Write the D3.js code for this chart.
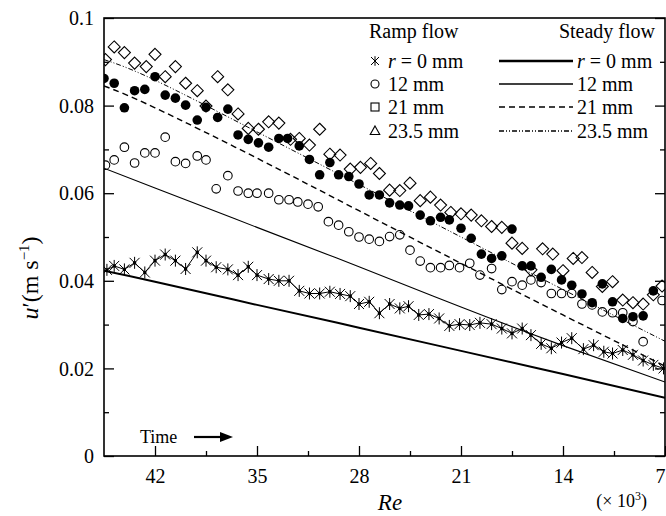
<!DOCTYPE html>
<html>
<head>
<meta charset="utf-8">
<script src="https://cdn.jsdelivr.net/npm/d3@7"></script>
<style>
  body { margin: 0; background: #fff; }
  svg text { font-family: "Liberation Serif", "DejaVu Serif", "Times New Roman", serif; fill: #000; }
</style>
</head>
<body>
<svg id="chart" width="666" height="516"></svg>
<script>
//// DATA (Re in thousands, u' in m/s)

const xTicks = [42, 35, 28, 21, 14, 7];
const xMinorTicks = [38.5, 31.5, 24.5, 17.5, 10.5];
const yTicks = [0, 0.02, 0.04, 0.06, 0.08, 0.1];
const yTickLabels = ["0", "0.02", "0.04", "0.06", "0.08", "0.1"];
const yMinorTicks = [0.01, 0.03, 0.05, 0.07, 0.09];

// ramp flow, r = 0 mm (asterisks)
const ramp0Re = [45.3,44.8,44.1,43.4,42.7,42.0,41.3,40.6,39.9,39.1,38.5,37.8,37.0,36.3,35.6,35.0,34.2,33.5,32.8,32.1,31.4,30.7,30.0,29.3,28.6,28.0,27.3,26.6,25.9,25.2,24.6,23.9,23.2,22.5,21.8,21.1,20.4,19.7,18.9,18.2,17.5,16.8,16.2,15.5,14.8,14.1,13.4,12.6,11.9,11.2,10.6,9.9,9.2,8.5,7.8,7.1];
const ramp0U = [0.0425,0.0434,0.0426,0.0441,0.0419,0.0446,0.0460,0.0446,0.0427,0.0465,0.0446,0.0431,0.0426,0.0413,0.0432,0.0413,0.0404,0.0400,0.0400,0.0377,0.0371,0.0371,0.0375,0.0370,0.0365,0.0347,0.0352,0.0326,0.0347,0.0337,0.0342,0.0322,0.0324,0.0314,0.0297,0.0301,0.0299,0.0304,0.0301,0.0291,0.0280,0.0291,0.0276,0.0256,0.0246,0.0259,0.0269,0.0244,0.0253,0.0238,0.0234,0.0242,0.0231,0.0218,0.0208,0.0200];

// ramp flow, 12 mm (open circles)
const ramp12Re = [45.4,44.8,44.1,43.4,42.7,42.0,41.3,40.6,39.9,39.1,38.5,37.8,37.0,36.3,35.6,35.0,34.2,33.5,32.8,32.2,31.5,30.8,30.1,29.4,28.7,28.0,27.3,26.6,25.9,25.2,24.5,23.8,23.1,22.4,21.8,21.1,20.4,19.7,18.9,18.2,17.5,16.8,16.2,15.5,14.8,14.1,13.4,12.7,12.0,11.3,10.6,9.9,9.2,8.5,7.2];
const ramp12U = [0.0664,0.0676,0.0705,0.0669,0.0692,0.0692,0.0728,0.0672,0.0668,0.0685,0.0676,0.0610,0.0640,0.0605,0.0600,0.0600,0.0600,0.0585,0.0585,0.0580,0.0575,0.0569,0.0535,0.0527,0.0512,0.0500,0.0495,0.0490,0.0501,0.0505,0.0470,0.0445,0.0430,0.0430,0.0435,0.0430,0.0440,0.0413,0.0428,0.0380,0.0398,0.0390,0.0402,0.0396,0.0371,0.0371,0.0371,0.0347,0.0345,0.0329,0.0327,0.0327,0.0307,0.0261,0.0355];

// ramp flow, 21 mm (filled dots)
const ramp21Re = [45.5,44.8,44.1,43.4,42.7,42.0,41.3,40.6,39.9,39.1,38.5,37.7,37.0,36.3,35.6,34.9,34.2,33.5,32.9,32.1,31.4,30.7,30.0,29.4,28.7,28.0,27.3,26.6,25.9,25.2,24.6,23.8,23.1,22.4,21.8,21.0,20.3,19.6,18.9,18.2,17.5,16.8,16.2,15.5,14.8,14.1,13.4,12.7,12.0,11.3,10.6,9.9,9.2,8.5,7.8];
const ramp21U = [0.0862,0.0851,0.0795,0.0834,0.0837,0.0866,0.0824,0.0817,0.0801,0.0767,0.0796,0.0773,0.0792,0.0733,0.0723,0.0715,0.0705,0.0725,0.0725,0.0708,0.0677,0.0642,0.0670,0.0642,0.0638,0.0621,0.0596,0.0596,0.0578,0.0573,0.0571,0.0550,0.0537,0.0545,0.0539,0.0520,0.0497,0.0461,0.0451,0.0457,0.0518,0.0434,0.0434,0.0408,0.0426,0.0402,0.0390,0.0370,0.0350,0.0393,0.0352,0.0314,0.0318,0.0320,0.0377];

// ramp flow, 23.5 mm (open diamonds)
const ramp235Re = [45.4,44.8,44.1,43.4,42.6,42.0,41.3,40.6,39.9,39.1,38.5,37.7,37.0,36.3,35.6,34.9,34.2,33.5,32.7,32.1,31.4,30.7,30.0,29.3,28.6,27.9,27.2,26.6,25.9,25.2,24.5,23.8,23.1,22.4,21.7,21.0,20.3,19.6,18.9,18.2,17.5,16.8,16.2,15.4,14.7,14.0,13.3,12.7,12.0,11.3,10.6,9.9,9.2,8.5,7.8,7.2];
const ramp235U = [0.0905,0.0934,0.0921,0.0897,0.0889,0.0917,0.0866,0.0889,0.0851,0.0834,0.0799,0.0866,0.0836,0.0781,0.0748,0.0746,0.0763,0.0760,0.0723,0.0725,0.0710,0.0746,0.0689,0.0687,0.0655,0.0659,0.0668,0.0645,0.0607,0.0606,0.0623,0.0583,0.0591,0.0573,0.0556,0.0553,0.0550,0.0537,0.0524,0.0522,0.0486,0.0474,0.0425,0.0473,0.0461,0.0423,0.0451,0.0453,0.0419,0.0387,0.0398,0.0356,0.0350,0.0347,0.0368,0.0388];

// steady flow curves
const steadyRe = [45.5, 42, 35, 28, 21, 14, 7];
const steady0U = [0.0423, 0.0398, 0.0345, 0.0293, 0.0240, 0.0187, 0.0133];
const steady12U = [0.0657, 0.0612, 0.0522, 0.0432, 0.0340, 0.0252, 0.0169];
const steady21U = [0.0845, 0.0795, 0.0680, 0.0560, 0.0440, 0.0322, 0.0205];
const steady235U = [0.0905, 0.0858, 0.0740, 0.0620, 0.0500, 0.0380, 0.0262];

const legendLabels = ["0 mm", "12 mm", "21 mm", "23.5 mm"];

//// LAYOUT

const svg = d3.select("#chart");
const X0 = 104, X1 = 665, Y0 = 456, Y1 = 18;
const FONT = '"Liberation Serif", "DejaVu Serif", serif';

const x = d3.scaleLinear().domain([45.5, 7]).range([X0, X1]);
const y = d3.scaleLinear().domain([0, 0.1]).range([Y0, Y1]);

svg.append("defs").append("clipPath").attr("id", "plot-clip")
  .append("rect").attr("x", X0).attr("y", Y1).attr("width", X1 - X0).attr("height", Y0 - Y1);

const pts = (re, u) => d3.zip(re, u);

//// MARKER PATHS

const asteriskPath = (s) => {
  const p = d3.path();
  p.moveTo(-s, -s); p.lineTo(s, s);
  p.moveTo(-s, s); p.lineTo(s, -s);
  p.moveTo(0, -s * 1.2); p.lineTo(0, s * 1.2);
  return p.toString();
};
const diamondPath = (s) => `M0,${-s}L${s},0L0,${s}L${-s},0Z`;
const trianglePath = (s) => `M0,${-s}L${s * 0.95},${s * 0.7}L${-s * 0.95},${s * 0.7}Z`;

//// STEADY LINES

const plot = svg.append("g").attr("clip-path", "url(#plot-clip)");
const line = d3.line().x(d => x(d[0])).y(d => y(d[1])).curve(d3.curveNatural);

const steadyStyles = [
  { u: steady0U, w: 2, dash: null },
  { u: steady12U, w: 1.1, dash: null },
  { u: steady21U, w: 1.4, dash: "6,4" },
  { u: steady235U, w: 1, dash: "5,2,1,2,1,2" },
];
steadyStyles.forEach(s => {
  plot.append("path")
    .datum(pts(steadyRe, s.u))
    .attr("d", line)
    .attr("fill", "none")
    .attr("stroke", "#000")
    .attr("stroke-width", s.w)
    .attr("stroke-dasharray", s.dash);
});

//// RAMP MARKERS

plot.append("g").selectAll("circle")
  .data(pts(ramp12Re, ramp12U))
  .join("circle")
  .attr("cx", d => x(d[0])).attr("cy", d => y(d[1]))
  .attr("r", 4.3)
  .attr("fill", "none").attr("stroke", "#000").attr("stroke-width", 1.1);

plot.append("g").selectAll("circle")
  .data(pts(ramp21Re, ramp21U))
  .join("circle")
  .attr("cx", d => x(d[0])).attr("cy", d => y(d[1]))
  .attr("r", 4.8)
  .attr("fill", "#000");

plot.append("g").selectAll("path")
  .data(pts(ramp235Re, ramp235U))
  .join("path")
  .attr("transform", d => `translate(${x(d[0])},${y(d[1])})`)
  .attr("d", diamondPath(6))
  .attr("fill", "none").attr("stroke", "#000").attr("stroke-width", 1.1);

const r0 = pts(ramp0Re, ramp0U);
plot.append("path")
  .datum(r0)
  .attr("d", d3.line().x(d => x(d[0])).y(d => y(d[1])))
  .attr("fill", "none").attr("stroke", "#000").attr("stroke-width", 1);
const star = plot.append("g").selectAll("g")
  .data(r0)
  .join("g")
  .attr("transform", d => `translate(${x(d[0])},${y(d[1])})`);
star.append("path").attr("d", asteriskPath(5)).attr("stroke", "#000").attr("stroke-width", 1);
star.append("rect").attr("x", -1.6).attr("y", -1.6).attr("width", 3.2).attr("height", 3.2).attr("fill", "#000");

//// AXES

const axes = svg.append("g");
const styleAxis = g => {
  g.attr("font-family", FONT);
  g.select(".domain").remove();
  g.selectAll("line").attr("stroke", "#000").attr("stroke-width", 1.3);
  g.selectAll("text").attr("font-size", 20);
};

axes.append("g").attr("transform", `translate(${X0},0)`)
  .call(d3.axisLeft(y).tickValues(yTicks).tickSize(-10).tickPadding(10)
    .tickFormat((d, i) => yTickLabels[i]))
  .call(styleAxis)
  .call(g => g.selectAll("text").attr("dy", "0.33em"));
axes.append("g").attr("transform", `translate(${X0},0)`)
  .call(d3.axisLeft(y).tickValues(yMinorTicks).tickSize(-5).tickFormat(""))
  .call(styleAxis);
axes.append("g").attr("transform", `translate(${X1},0)`)
  .call(d3.axisRight(y).tickValues(yTicks).tickSize(-10).tickFormat(""))
  .call(styleAxis);
axes.append("g").attr("transform", `translate(${X1},0)`)
  .call(d3.axisRight(y).tickValues(yMinorTicks).tickSize(-5).tickFormat(""))
  .call(styleAxis);

axes.append("g").attr("transform", `translate(0,${Y0})`)
  .call(d3.axisBottom(x).tickValues(xTicks).tickSize(-10).tickPadding(13).tickFormat(d3.format("d")))
  .call(styleAxis)
  .call(g => g.selectAll(".tick text").filter(d => d === 7).attr("text-anchor", "end").attr("dx", 0));
axes.append("g").attr("transform", `translate(0,${Y0})`)
  .call(d3.axisBottom(x).tickValues(xMinorTicks).tickSize(-5).tickFormat(""))
  .call(styleAxis);

svg.append("rect")
  .attr("x", X0).attr("y", Y1).attr("width", X1 - X0).attr("height", Y0 - Y1)
  .attr("fill", "none").attr("stroke", "#000").attr("stroke-width", 1.6);

//// AXIS TITLES

svg.append("text")
  .attr("x", 390).attr("y", 510).attr("text-anchor", "middle")
  .attr("font-size", 23).attr("font-style", "italic").text("Re");

const xu = svg.append("text").attr("x", 647).attr("y", 507).attr("font-size", 18).attr("text-anchor", "end");
xu.append("tspan").text("(\u00d7 10");
xu.append("tspan").attr("font-size", 12).attr("dy", -7).text("3");
xu.append("tspan").attr("dy", 7).text(")");

const yl = svg.append("text")
  .attr("transform", "translate(38,278) rotate(-90)")
  .attr("text-anchor", "middle").attr("font-size", 24);
yl.append("tspan").attr("font-style", "italic").text("u");
yl.append("tspan").text("\u2032(m s");
yl.append("tspan").attr("font-size", 15).attr("dy", -9).text("\u22121");
yl.append("tspan").attr("dy", 9).text(")");

//// TIME ARROW

svg.append("text").attr("x", 140).attr("y", 443).attr("font-size", 18).text("Time");
svg.append("line").attr("x1", 194).attr("y1", 437).attr("x2", 222).attr("y2", 437)
  .attr("stroke", "#000").attr("stroke-width", 2.2);
svg.append("path").attr("d", "M220,432L233,437L220,442Z").attr("fill", "#000");

//// LEGEND

const leg = svg.append("g").attr("font-size", 20);
leg.append("text").attr("x", 369).attr("y", 38).text("Ramp flow");
leg.append("text").attr("x", 655).attr("y", 38).attr("text-anchor", "end").text("Steady flow");

const rowY = [61, 84, 107, 131];
const rampMarkers = [
  g => g.append("path").attr("d", asteriskPath(4)).attr("stroke", "#000").attr("stroke-width", 1),
  g => g.append("circle").attr("r", 4).attr("fill", "none").attr("stroke", "#000").attr("stroke-width", 1.1),
  g => g.append("rect").attr("x", -4).attr("y", -4).attr("width", 8).attr("height", 8).attr("fill", "none").attr("stroke", "#000").attr("stroke-width", 1.1),
  g => g.append("path").attr("d", trianglePath(5)).attr("fill", "none").attr("stroke", "#000").attr("stroke-width", 1.1),
];

const legendLabel = (xPos, yPos, i) => {
  const t = leg.append("text").attr("x", xPos).attr("y", yPos + 7);
  if (i === 0) {
    t.append("tspan").attr("font-style", "italic").text("r");
    t.append("tspan").text(" = " + legendLabels[i]);
  } else {
    t.text(legendLabels[i]);
  }
};

rowY.forEach((ry, i) => {
  rampMarkers[i](leg.append("g").attr("transform", `translate(375,${ry})`));
  legendLabel(388, ry, i);
  const st = steadyStyles[i];
  leg.append("line")
    .attr("x1", 499).attr("x2", 573).attr("y1", ry).attr("y2", ry)
    .attr("stroke", "#000").attr("stroke-width", i === 0 ? 2.6 : st.w + 0.3)
    .attr("stroke-dasharray", st.dash);
  legendLabel(577, ry, i);
});
</script>
</body>
</html>
